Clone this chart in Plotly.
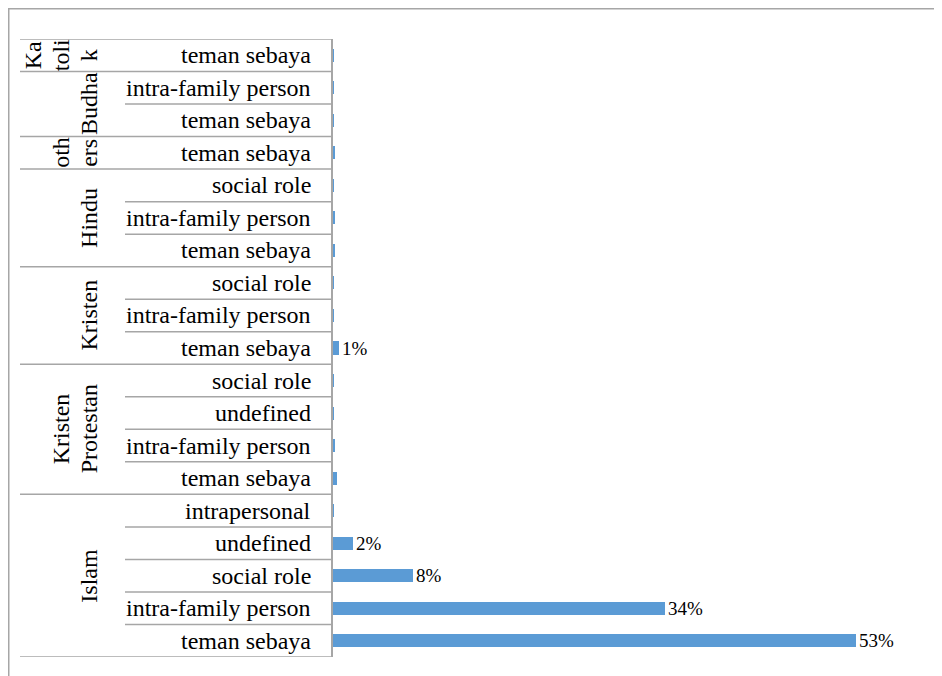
import plotly.graph_objects as go

# ---- data (bottom row first) ----
groups = ["Islam", "Kristen Protestan", "Kristen", "Hindu", "others", "Budha", "Katolik"]
group_lines = [["Islam"], ["Kristen", "Protestan"], ["Kristen"], ["Hindu"], ["oth", "ers"], ["Budha"], ["Ka", "toli", "k"]]
subcats = [
    ["teman sebaya", "intra-family person", "social role", "undefined", "intrapersonal"],
    ["teman sebaya", "intra-family person", "undefined", "social role"],
    ["teman sebaya", "intra-family person", "social role"],
    ["teman sebaya", "intra-family person", "social role"],
    ["teman sebaya"],
    ["teman sebaya", "intra-family person"],
    ["teman sebaya"],
]
values = [
    [0.531, 0.337, 0.081, 0.020, 0.001],
    [0.004, 0.0015, 0.001, 0.001],
    [0.0065, 0.001, 0.0005],
    [0.0025, 0.002, 0.0005],
    [0.0015],
    [0.0005, 0.0002],
    [0.001],
]
labels = [
    ["53%", "34%", "8%", "2%", ""],
    ["", "", "", ""],
    ["1%", "", ""],
    ["", "", ""],
    [""],
    ["", ""],
    [""],
]

# flatten
row_sub, row_val, row_lab = [], [], []
for subs, vals, labs in zip(subcats, values, labels):
    for s, v, l in zip(subs, vals, labs):
        row_sub.append(s); row_val.append(v); row_lab.append(l)
n = len(row_sub)
ypos = list(range(n))

# ---- layout geometry (figure sits at an 8px page offset) ----
W, H = 942, 676
OFF = 8
ML, MR, MT, MB = 325, 26, 31, 27
PW = W - ML - MR
PH = H - MT - MB
def px(x):  # screen pixel x -> paper
    return (x - OFF - ML) / PW
def py(y):  # screen pixel y -> paper
    return 1 - (y - OFF - MT) / PH

FONT = "Liberation Serif, Times New Roman, serif"
LINE = "#A6A6A6"
LINE_STEP = 28  # spacing of wrapped, rotated group-label lines

fig = go.Figure()
fig.add_trace(go.Bar(
    x=row_val, y=ypos, orientation="h",
    marker=dict(color="#5B9BD5", line=dict(width=0)),
    width=0.4,
    text=row_lab, textposition="outside", cliponaxis=False, constraintext="none",
    textfont=dict(family=FONT, size=19, color="#000000"),
    hoverinfo="skip",
))

annotations = []
shapes = []
for i, s in enumerate(row_sub):
    annotations.append(dict(
        x=px(313), y=i, xref="paper", yref="y", text=s, showarrow=False,
        xanchor="right", yanchor="middle",
        font=dict(family=FONT, size=24, color="#000000"),
    ))
start = 0
for gi, subs in enumerate(subcats):
    k = len(subs)
    shapes.append(dict(type="line", xref="paper", yref="y", x0=px(20), x1=0,
                       y0=start - 0.5, y1=start - 0.5, line=dict(color=LINE, width=1.5)))
    for j in range(1, k):
        shapes.append(dict(type="line", xref="paper", yref="y", x0=px(125), x1=0,
                           y0=start + j - 0.5, y1=start + j - 0.5, line=dict(color=LINE, width=1.5)))
    lines = group_lines[gi]
    L = len(lines)
    for j, t in enumerate(lines):
        annotations.append(dict(
            x=px(104 - (L - 1 - j) * LINE_STEP), y=start + (k - 1) / 2, xref="paper", yref="y",
            text=t, showarrow=False, textangle=-90, xanchor="right", yanchor="middle",
            font=dict(family=FONT, size=24, color="#000000"),
        ))
    start += k
shapes.append(dict(type="line", xref="paper", yref="y", x0=px(20), x1=0,
                   y0=n - 0.5, y1=n - 0.5, line=dict(color=LINE, width=1.5)))
# outer chart border around the whole figure
shapes.append(dict(type="rect", xref="paper", yref="paper", x0=px(8.75), x1=px(949.25),
                   y0=py(683.25), y1=py(8.75), line=dict(color=LINE, width=1.5), layer="below"))

fig.update_layout(
    width=W, height=H,
    margin=dict(l=ML, r=MR, t=MT, b=MB),
    paper_bgcolor="white", plot_bgcolor="white",
    showlegend=False,
    xaxis=dict(range=[0, 0.6], visible=False, showgrid=False, zeroline=False),
    yaxis=dict(range=[-0.5, n - 0.5], showticklabels=False, showgrid=False, zeroline=False,
               showline=True, linecolor=LINE, linewidth=1.5, ticks=""),
    annotations=annotations, shapes=shapes,
    bargap=0,
)
fig.write_html("out.html")
